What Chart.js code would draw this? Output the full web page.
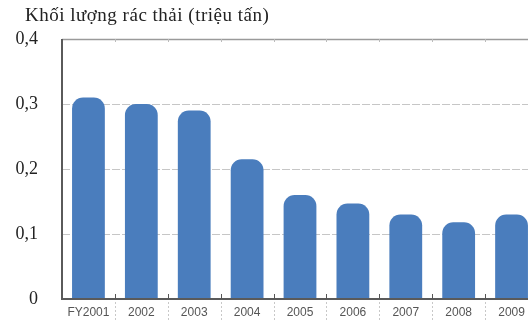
<!DOCTYPE html>
<html>
<head>
<meta charset="utf-8">
<script src="https://cdn.jsdelivr.net/npm/chart.js@4.4.1/dist/chart.umd.min.js"></script>
<style>
  html, body { margin: 0; padding: 0; background: #fff; }
  #wrap { width: 528px; height: 322px; overflow: hidden; }
</style>
</head>
<body>
<div id="wrap"><canvas id="chart" width="538" height="322"></canvas></div>
<script>
// nhãn năm và khối lượng rác (triệu tấn)
var years = ['FY2001', '2002', '2003', '2004', '2005', '2006', '2007', '2008', '2009'];
var waste = [0.31, 0.30, 0.29, 0.215, 0.16, 0.147, 0.13, 0.118, 0.13];
var yTicks = [0, 0.1, 0.2, 0.3, 0.4];
var chartTitle = 'Khối lượng rác thải (triệu tấn)';

var barColor = '#4a7dbd';

// tiêu đề phía trên, lệch vào trong một chút
var titlePlugin = {
  id: 'topTitle',
  afterDraw: function(chart) {
    var ctx = chart.ctx;
    ctx.save();
    ctx.font = '19px "Liberation Serif"';
    ctx.fillStyle = '#222';
    ctx.textAlign = 'left';
    ctx.textBaseline = 'alphabetic';
    if ('letterSpacing' in ctx) ctx.letterSpacing = '0.5px';
    ctx.fillText(chartTitle, 25, 21);
    ctx.restore();
  }
};

// vẽ khung: trục trái, trục dưới, đường trên, vạch chia và nét chấm giữa các nhãn
var framePlugin = {
  id: 'frame',
  afterDatasetsDraw: function(chart) {
    var ctx = chart.ctx;
    var a = chart.chartArea;
    var n = years.length;
    var step = (a.right - a.left) / n;
    ctx.save();

    // đường trên cùng
    ctx.strokeStyle = '#9a9a9a';
    ctx.lineWidth = 1.5;
    ctx.beginPath();
    ctx.moveTo(a.left, a.top + 0.5);
    ctx.lineTo(a.right, a.top + 0.5);
    ctx.stroke();

    // trục trái và trục dưới
    ctx.strokeStyle = '#5a5a5a';
    ctx.lineWidth = 2;
    ctx.beginPath();
    ctx.moveTo(a.left, a.top);
    ctx.lineTo(a.left, a.bottom);
    ctx.lineTo(a.right, a.bottom);
    ctx.stroke();

    for (var i = 1; i < n; i++) {
      var bx = Math.round(a.left + step * i) + 0.5;
      // vạch nhỏ trên trục dưới
      ctx.strokeStyle = '#555';
      ctx.lineWidth = 1;
      ctx.setLineDash([]);
      ctx.beginPath();
      ctx.moveTo(bx, a.bottom - 5);
      ctx.lineTo(bx, a.bottom);
      ctx.stroke();
      // vạch nhỏ trên đường trên
      ctx.strokeStyle = '#bbb';
      ctx.beginPath();
      ctx.moveTo(bx, a.top);
      ctx.lineTo(bx, a.top + 3);
      ctx.stroke();
      // nét chấm dưới trục
      ctx.strokeStyle = '#c8c8c8';
      ctx.setLineDash([2, 2]);
      ctx.beginPath();
      ctx.moveTo(bx, a.bottom + 3);
      ctx.lineTo(bx, a.bottom + 24);
      ctx.stroke();
    }
    ctx.restore();
  }
};

new Chart(document.getElementById('chart'), {
  type: 'bar',
  data: {
    labels: years,
    datasets: [{
      data: waste,
      backgroundColor: barColor,
      borderRadius: { topLeft: 11, topRight: 11 },
      borderSkipped: 'bottom',
      barPercentage: 0.62,
      categoryPercentage: 1
    }]
  },
  options: {
    responsive: false,
    animation: false,
    layout: { padding: { top: 39, right: 0, bottom: 0, left: 0 } },
    plugins: {
      legend: { display: false },
      tooltip: { enabled: false },
      title: { display: false }
    },
    scales: {
      x: {
        grid: { display: false, drawTicks: false },
        border: { display: false },
        afterFit: function(scale) { scale.height = 23; },
        ticks: {
          color: '#555',
          font: { family: 'Liberation Sans', size: 12 },
          padding: 6,
          maxRotation: 0
        }
      },
      y: {
        min: 0,
        max: 0.4,
        afterBuildTicks: function(scale) {
          scale.ticks = yTicks.map(function(v) { return { value: v }; });
        },
        afterFit: function(scale) {
          scale.width = 62;
          // không để nhãn trục tung đẩy vùng vẽ
          scale.paddingTop = 0;
          scale.paddingBottom = 0;
        },
        grid: {
          drawTicks: false,
          lineWidth: 1,
          color: function(c) {
            var v = c.tick ? c.tick.value : 0;
            return (v === 0 || v === 0.4) ? 'rgba(0,0,0,0)' : '#c6c6c6';
          }
        },
        border: { display: false, dash: [8, 2] },
        ticks: {
          color: '#222',
          padding: 24,
          font: { family: 'Liberation Serif', size: 18 },
          callback: function(v) {
            return v === 0 ? '0' : v.toFixed(1).replace('.', ',');
          }
        }
      }
    }
  },
  plugins: [framePlugin, titlePlugin]
});
</script>
</body>
</html>
